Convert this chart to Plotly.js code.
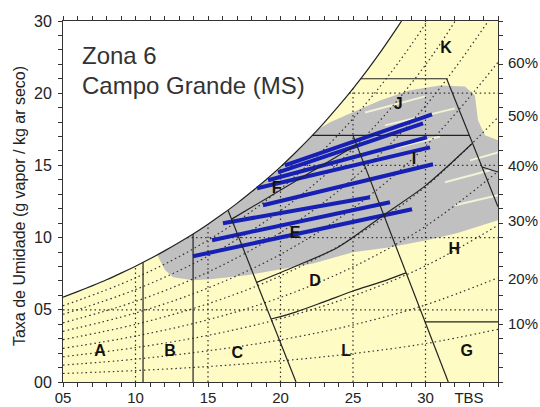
<!DOCTYPE html>
<html>
<head>
<meta charset="utf-8">
<script src="https://cdn.plot.ly/plotly-3.0.1.min.js"></script>
<style>html,body{margin:0;padding:0;background:#fff}#chart{width:540px;height:407px}</style>
</head>
<body>
<div id="chart"></div>
<script>
// ---- saturation curve ----
const satT = [5,6,7,8,9,10,11,12,13,14,15,16,17,18,19,20,21,22,23,24,25,26,27,28,28.35];
const satW = [5.88,6.26,6.66,7.08,7.54,8.02,8.53,9.08,9.66,10.27,10.93,11.63,12.37,13.17,14.01,14.90,15.86,16.87,17.95,19.10,20.32,21.62,23.0,24.47,25.0];

// ---- relative humidity curves (dotted) ----
const rhT = [5,10,15,20,25,30,35];
const rh10 = [0.59,0.79,1.07,1.46,1.97,2.66,3.65];
const rh20 = [1.17,1.58,2.16,2.92,3.95,5.34,7.22];
const rh30 = [1.75,2.38,3.23,4.39,5.96,8.04,10.86];
const rh40 = [2.33,3.18,4.31,5.86,7.97,10.78,14.58];
const rh50 = [2.93,3.99,5.42,7.35,9.99,13.53,18.33];
const rh60 = [3.51,4.78,6.51,8.84,12.03,16.32,22.14];
const rh70 = [4.10,5.58,7.61,10.35,14.08,19.12,25.98];
const rh80 = [4.69,6.40,8.72,11.86,16.15,21.96,29.88];
const rh90 = [5.28,7.21,9.82,13.37,18.24,24.81,33.82];

// ---- dotted grid inside the chart ----
const gridVT = [10,15,20,25,30];
const gridVTop = [8.02,10.93,14.90,20.32,25];
const gridHW = [5,10,15,20];
const gridHStart = [5,13.56,20.10,24.74];

// ---- grey cloud of hourly data ----
const grayT = [11.5,12,13,14,15,16,17,18,19,20,21,22,22.6,23.41,24.79,26.86,28.93,31.0,32.72,33.41,33.62,34.10,35,35,32.15,30.08,27.55,25.0,22.24,19.28,17.69,15.14,13.97,12.59,12.03];
const grayW = [8.80,9.07,9.65,10.26,10.92,11.62,12.36,13.16,14.0,14.9,15.85,16.86,17.5,17.98,18.6,19.5,20.2,20.54,20.47,19.84,18.12,17.08,16.74,11.2,10.3,9.82,9.34,8.99,8.2,7.7,7.40,7.12,7.05,7.26,7.75];

// pale streaks inside grey cloud
const paleT0 = [25.83,27.21,33.07,31.34,32.03,27.9];
const paleW0 = [18.67,17.77,15.35,13.83,12.24,16.2];
const paleT1 = [29.97,32.03,35.0,34.45,35.0,31.0];
const paleW1 = [19.78,18.95,15.9,14.66,12.93,17.0];

// ---- blue lines (selected days) ----
const blueT0 = [20.3,19.83,19.14,18.38,18.79,16.03,15.28,13.97];
const blueW0 = [15.0,14.52,13.97,13.42,12.24,11.0,9.82,8.71];
const blueT1 = [30.45,29.83,30.10,30.31,30.52,26.17,27.55,29.07];
const blueW1 = [18.53,17.91,16.94,16.25,15.08,12.79,12.45,11.96];

// ---- zone boundaries ----
const zAB_T = [10.52,10.52], zAB_W = [0,8.28];
const zBC_T = [13.97,13.97], zBC_W = [0,10.25];
const zC_T = [16.38,21.07], zC_W = [11.9,0];
const zDL_T = [19.35,21.1,23,25,27,28.65], zDL_W = [4.36,4.86,5.55,6.3,6.95,7.56];
const zED_T = [18.36,21,24,27.1,30,33.2], zED_W = [6.9,8.0,9.35,11.55,13.6,16.5];
const zd_T = [25.0,31.57], zd_W = [17.08,0];
const zc_T = [31.46,35], zc_W = [21.0,12.13];
const zJI_T = [22.2,33.02], zJI_W = [17.08,17.08];
const zK_T = [25.53,31.46], zK_W = [21.0,21.0];
const zFE_T = [16.63,25.23], zFE_W = [11.28,16.41];
const zGH_T = [29.96,35], zGH_W = [4.17,4.17];
const zS_T = [33.9,35], zS_W = [14.89,14.54];

// ---- zone letters ----
const zoneLetters = ['A','B','C','L','G','D','H','E','F','I','J','K'];
const zoneLT = [7.55,12.38,17.02,24.52,32.84,22.38,31.99,21.0,19.74,29.21,28.12,31.41];
const zoneLW = [2.10,2.10,1.94,2.10,2.10,6.94,9.13,10.28,13.40,15.35,19.16,23.08];

// ---- axis labels ----
const xLabelVals = [5,10,15,20,25,30,33];
const xLabels = ['05','10','15','20','25','30','TBS'];
const yLabelVals = [0,5,10,15,20,25];
const yLabels = ['00','05','10','15','20','30'];
const rhLabels = ['60%','50%','40%','30%','20%','10%'];
const rhLabelW = [22.13,18.46,15.01,11.20,7.19,4.08];

const FONT = 'Liberation Sans, Arial, sans-serif';
const YELLOW = '#FFFBC4';
const GRAY = '#C0C0C0';
const BLUE = '#1620B4';
const traces = [];

// yellow area under saturation
traces.push({x:[5].concat(satT,[35,35]), y:[0].concat(satW,[25,0]), mode:'lines', fill:'toself',
  fillcolor:YELLOW, line:{width:0}, hoverinfo:'skip'});
// grey cloud
traces.push({x:grayT, y:grayW, mode:'lines', fill:'toself', fillcolor:GRAY, line:{width:0}, hoverinfo:'skip'});
// pale streaks
for (let i=0;i<paleT0.length;i++){
  traces.push({x:[paleT0[i],paleT1[i]], y:[paleW0[i],paleW1[i]], mode:'lines',
    line:{color:'#F3F1D6', width:2}, hoverinfo:'skip'});
}
// dotted grid
const gx=[], gy=[];
gridVT.forEach((t,i)=>{gx.push(t,t,null); gy.push(0,gridVTop[i],null);});
gridHW.forEach((w,i)=>{gx.push(gridHStart[i],35,null); gy.push(w,w,null);});
const DOT = {color:'#333', width:1.2, dash:'1.5px,3px'};
traces.push({x:gx, y:gy, mode:'lines', line:DOT, hoverinfo:'skip', connectgaps:false});
// RH curves
[rh10,rh20,rh30,rh40,rh50,rh60,rh70,rh80,rh90].forEach(arr=>{
  traces.push({x:rhT, y:arr, mode:'lines', line:Object.assign({shape:'spline', smoothing:1}, DOT), hoverinfo:'skip'});
});
// saturation curve
traces.push({x:satT, y:satW, mode:'lines', line:{color:'#222', width:1.2, shape:'spline', smoothing:0.6}, hoverinfo:'skip'});
// blue lines
for (let i=0;i<blueT0.length;i++){
  traces.push({x:[blueT0[i],blueT1[i]], y:[blueW0[i],blueW1[i]], mode:'lines',
    line:{color:BLUE, width:4}, hoverinfo:'skip'});
}
// zone boundaries
const ZL = {color:'#222', width:1.2};
[[zAB_T,zAB_W],[zBC_T,zBC_W],[zC_T,zC_W],[zd_T,zd_W],[zc_T,zc_W],[zJI_T,zJI_W],[zK_T,zK_W],
 [zFE_T,zFE_W],[zGH_T,zGH_W],[zS_T,zS_W]].forEach(p=>{
  traces.push({x:p[0], y:p[1], mode:'lines', line:ZL, hoverinfo:'skip'});
});
[[zDL_T,zDL_W],[zED_T,zED_W]].forEach(p=>{
  traces.push({x:p[0], y:p[1], mode:'lines', line:Object.assign({shape:'spline', smoothing:0.8}, ZL), hoverinfo:'skip'});
});
// zone letters
traces.push({x:zoneLT, y:zoneLW, mode:'text', text:zoneLetters.map(s=>'<b>'+s+'</b>'),
  textfont:{family:FONT, size:16, color:'#111'}, hoverinfo:'skip', cliponaxis:false});

// ticks
const xTickVals=[], xTickText=[];
for (let t=5;t<=35;t++){ xTickVals.push(t); const k=xLabelVals.indexOf(t); xTickText.push(k>=0?xLabels[k]:''); }
const yTickVals=[], yTickText=[];
for (let w=0;w<=25;w++){ yTickVals.push(w); const k=yLabelVals.indexOf(w); yTickText.push(k>=0?yLabels[k]:''); }

const annotations = [
  {text:'Zona 6', x:6.17, y:22.61, xref:'x', yref:'y', xanchor:'left', yanchor:'middle', showarrow:false,
   font:{family:FONT, size:24, color:'#333'}},
  {text:'Campo Grande (MS)', x:6.17, y:20.54, xref:'x', yref:'y', xanchor:'left', yanchor:'middle', showarrow:false,
   font:{family:FONT, size:24, color:'#333'}},
  {text:'Taxa de Umidade (g vapor / kg ar seco)', textangle:-90, x:-0.101, y:0.4875, xref:'paper', yref:'paper',
   xanchor:'center', yanchor:'middle', showarrow:false, font:{family:FONT, size:16, color:'#222'}}
];
rhLabels.forEach((s,i)=>{
  annotations.push({text:s, x:1, y:rhLabelW[i], xref:'paper', yref:'y', xanchor:'left', yanchor:'middle',
    xshift:8, showarrow:false, font:{family:FONT, size:15, color:'#222'}});
});

const axisCommon = {ticks:'outside', ticklen:4, tickwidth:1, tickcolor:'#333', showline:true, linecolor:'#333',
  linewidth:1, mirror:'ticks', showgrid:false, zeroline:false, tickmode:'array', fixedrange:true};

const layout = {
  width:540, height:407, margin:{l:63, r:42, t:21, b:25, pad:0},
  paper_bgcolor:'#fff', plot_bgcolor:'#fff', showlegend:false,
  xaxis:Object.assign({}, axisCommon, {range:[5,35], tickvals:xTickVals, ticktext:xTickText,
    tickfont:{family:FONT, size:15, color:'#222'}, ticklabelstandoff:-2}),
  yaxis:Object.assign({}, axisCommon, {range:[0,25], tickvals:yTickVals, ticktext:yTickText,
    tickfont:{family:FONT, size:16, color:'#222'}, ticklabelstandoff:3}),
  annotations:annotations
};
Plotly.newPlot('chart', traces, layout, {staticPlot:true, displayModeBar:false});
</script>
</body>
</html>
